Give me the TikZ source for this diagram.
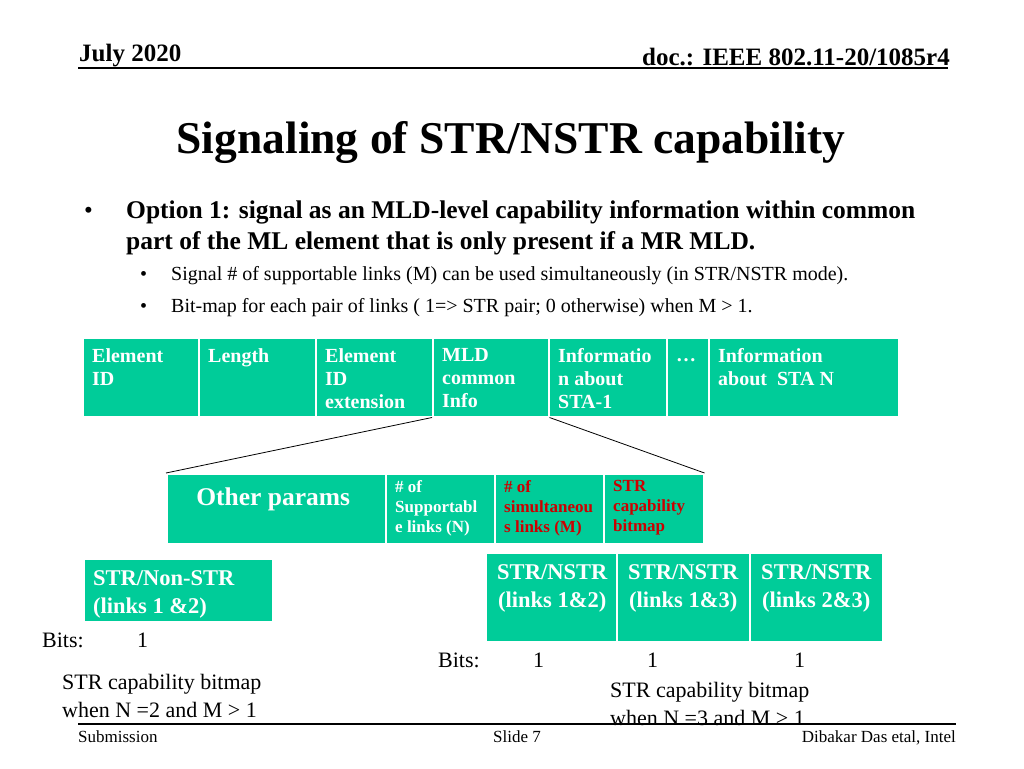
\documentclass[tikz,border=0pt]{standalone}
\usepackage{fontspec}
\setmainfont{Liberation Serif}
\usetikzlibrary{positioning}
\definecolor{seafoam}{RGB}{0,204,153}
\definecolor{fieldred}{RGB}{204,0,0}

\begin{document}
\begin{tikzpicture}[x=1pt,y=-1pt,
  cell/.style={draw=white,line width=1.5pt,fill=seafoam,anchor=north west,inner sep=0pt},
  celltext/.style={anchor=north west,inner sep=0pt,align=left,text=white,
    font=\bfseries\fontsize{20}{23}\selectfont},
  subtext/.style={anchor=north west,inner sep=0pt,align=left,
    font=\bfseries\fontsize{17}{20}\selectfont},
  boxtext/.style={inner sep=0pt,align=center,text=white,
    font=\bfseries\fontsize{22.5}{28}\selectfont},
  plain/.style={anchor=base west,inner sep=0pt,align=left,font=\fontsize{22}{28}\selectfont},
  ]
  \useasboundingbox (0,0) rectangle (1024,768);

  % header and footer
  \node[anchor=base west,inner sep=0pt,font=\bfseries\fontsize{25}{25}\selectfont] (date) at (79,62) {July 2020};
  \node[anchor=base east,inner sep=0pt,font=\bfseries\fontsize{25}{25}\selectfont] (doc) at (950,65) {doc.: IEEE 802.11-20/1085r4};
  \draw[line width=1.8pt] (78,68) -- (948,68);
  \draw[line width=1.2pt] (78,724) -- (956,724);
  \node[anchor=base west,inner sep=0pt,font=\fontsize{17}{17}\selectfont] (sub) at (78,742) {Submission};
  \node[anchor=base,inner sep=0pt,font=\fontsize{17}{17}\selectfont] (slide) at (517,742) {Slide 7};
  \node[anchor=base east,inner sep=0pt,font=\fontsize{17}{17}\selectfont] (auth) at (956,742) {Dibakar Das etal, Intel};

  \node[anchor=base,inner sep=0pt,font=\bfseries\fontsize{45.5}{45.5}\selectfont] (title) at (511,153) {Signaling of STR/NSTR capability};

  % bullets
  \node[anchor=base west,inner sep=0pt,font=\fontsize{25}{25}\selectfont] (b1) at (84,218) {•};
  \node[anchor=north west,inner sep=0pt,align=left,font=\bfseries\fontsize{25.5}{31}\selectfont] (opt)
    at (126,200.5) {Option 1: signal as an MLD-level capability information within common\\
    part of the ML element that is only present if a MR MLD.};
  \node[anchor=base west,inner sep=0pt,font=\fontsize{20}{20}\selectfont] (b2) at (140,280) {•};
  \node[anchor=base west,inner sep=0pt,font=\fontsize{20}{20}\selectfont] (s1) at (171,280)
    {Signal \# of supportable links (M) can be used simultaneously (in STR/NSTR mode).};
  \node[anchor=base west,inner sep=0pt,font=\fontsize{20}{20}\selectfont] (b3) at (140,312) {•};
  \node[anchor=base west,inner sep=0pt,font=\fontsize{20}{20}\selectfont] (s2) at (171,312)
    {Bit-map for each pair of links ( 1=> STR pair; 0 otherwise) when M > 1.};

  % ML element
  \foreach \x/\w/\n/\t in {82/116/eid/{Element\\ID}, 198/117/len/Length,
      315/117/eidx/{Element\\ID\\extension}, 432/116/mld/{MLD\\common\\Info},
      548/118/sta1/{Informatio\\n about\\STA-1}, 666/42/dots/{\vphantom{E}…},
      708/190/stan/{Information\\about~ STA N}}{
    \node[cell,minimum width=\w pt,minimum height=79pt] (\n) at (\x,337) {};
    \node[celltext] (\n-t) at ([shift={(10,11.5)}]\n.north west) {\t};
  }

  % common info fields
  \node[cell,minimum width=219pt,minimum height=70pt] (other) at (166,473) {};
  \node[cell,minimum width=109pt,minimum height=70pt] (nsup) at (385,473) {};
  \node[cell,minimum width=109pt,minimum height=70pt] (nsim) at (494,473) {};
  \node[cell,minimum width=100pt,minimum height=70pt] (bitmap) at (603,473) {};
  \node[anchor=base,inner sep=0pt,text=white,font=\bfseries\fontsize{25.5}{25.5}\selectfont] (other-t)
    at ([shift={(-3,32)}]other.north) {Other params};
  \node[subtext,text=white] (nsup-t) at ([shift={(10,7)}]nsup.north west) {\# of\\Supportabl\\e links (N)};
  \node[subtext,text=fieldred] (nsim-t) at ([shift={(10,7)}]nsim.north west) {\# of\\simultaneou\\s links (M)};
  \node[subtext,text=fieldred] (bitmap-t) at ([shift={(10,7)}]bitmap.north west) {STR\\capability\\bitmap};

  \draw[line width=0.8pt] (mld.south west) -- (other.north west);
  \draw[line width=0.8pt] (mld.south east) -- (bitmap.north east);

  % bitmap for N=2
  \node[cell,minimum width=189pt,minimum height=63pt] (pair12) at (83,558) {};
  \node[boxtext,anchor=north west,align=left] (pair12-t) at ([shift={(10,12.5)}]pair12.north west)
    {STR/Non-STR\\(links 1 \&2)};
  \node[plain] (bitsa) at (42,647) {Bits:};
  \node[plain] (onea) at (137,647) {1};
  \node[plain,anchor=north west] (capa) at (62,674) {STR capability bitmap\\when N =2 and M > 1};

  % bitmap for N=3
  \foreach \x/\n/\t in {485/l12/{1\&2}, 616/l13/{1\&3}, 749/l23/{2\&3}}{
    \node[cell,minimum width=133pt,minimum height=89pt] (\n) at (\x,552) {};
    \node[boxtext,anchor=north] (\n-t) at ([shift={(0,12.5)}]\n.north) {STR/NSTR\\(links \t)};
  }
  \node[plain] (bitsb) at (438,667) {Bits:};
  \node[plain] (oneb) at (533,667) {1};
  \node[plain] (onec) at (647,667) {1};
  \node[plain] (oned) at (794,667) {1};
  \node[plain,anchor=north west] (capb) at (610,682) {STR capability bitmap\\when N =3 and M > 1};
\end{tikzpicture}
\end{document}
